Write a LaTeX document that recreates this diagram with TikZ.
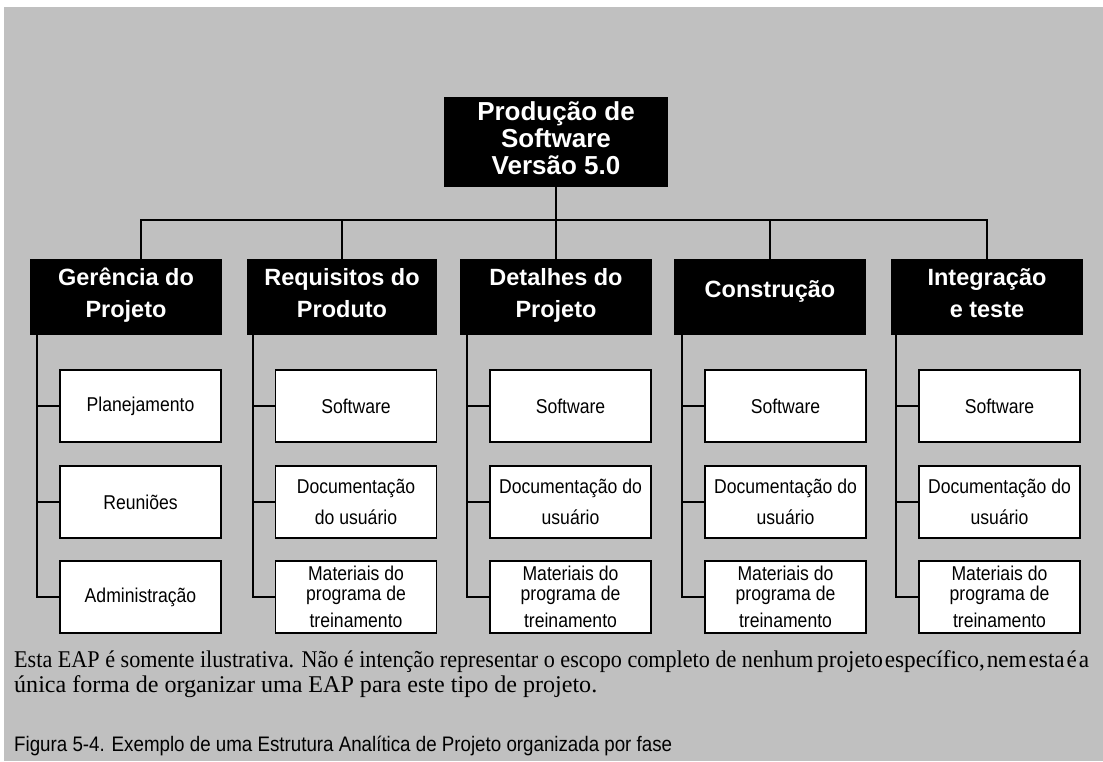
\documentclass[tikz,border=0pt]{standalone}
\usepackage{fontspec}
\usepackage{graphicx}
\setmainfont{Liberation Serif}
\newfontfamily\arialfont{Liberation Sans}
\newfontfamily\narrowfont[FakeStretch=0.88]{Liberation Sans}
\definecolor{panel}{HTML}{C0C0C0}
% line strut for the two-line phase titles
\newcommand{\ls}{\rule[-12pt]{0pt}{32pt}}

\begin{document}
\begin{tikzpicture}[x=1pt,y=-1pt,
  link/.style={line width=1.6pt,line cap=rect},
  rootbox/.style={fill=black,text=white,inner sep=0pt,align=center,
    minimum width=224pt,minimum height=90pt,text depth=7pt,
    font=\arialfont\bfseries\fontsize{26}{27}\selectfont},
  phasebox/.style={fill=black,text=white,inner sep=0pt,align=center,
    minimum width=192pt,minimum height=76pt,
    font=\arialfont\bfseries\fontsize{23.5}{32}\selectfont},
  itembox/.style={draw=black,line width=1.6pt,fill=white,inner sep=0pt,align=center,
    minimum width=161pt,minimum height=72pt,
    font=\narrowfont\fontsize{20}{20}\selectfont},
  note/.style={anchor=base west,inner sep=0pt}
]
% page and grey panel
\useasboundingbox (0,0) rectangle (1103,761);
\fill[white] (0,0) rectangle (1103,761);
\fill[panel] (4,7) rectangle (1103,761);

% top of the breakdown
\node[rootbox] (root) at (556,142) {Produção de\\Software\\Versão 5.0};

% phases
\node[phasebox] (gp) at (126,297) {\ls Gerência do\\\ls Projeto};
\node[phasebox,minimum width=190pt] (rp) at (342,297) {\ls Requisitos do\\\ls Produto};
\node[phasebox] (dp) at (556,297) {\ls Detalhes do\\\ls Projeto};
\node[phasebox,text height=18pt,text depth=18pt] (cp) at (770,297) {Construção};
\node[phasebox] (ip) at (987,297) {\ls Integração\\\ls e teste};

% bus between the root and the phases
\coordinate (bus) at (556,220);
\draw[link] (root.south) -- (root.south |- bus);
\draw[link] ([xshift=15pt]gp.north) |- (ip.north |- bus) -- (ip.north);
\foreach \p in {rp,dp,cp}
  \draw[link] (\p.north) -- (\p.north |- bus);

% work packages
\node[itembox] (g1) at (140.5,406) {Planejamento};
\node[itembox] (g2) at (140.5,502) {Reuniões};
\node[itembox] (g3) at (140.5,597) {Administração};

\node[itembox] (r1) at (356,406) {Software};
\node[itembox] (r2) at (356,502) {Documentação\\[11pt]do usuário};
\node[itembox] (r3) at (356,597) {Materiais do\\programa de\\[7pt]treinamento};

\foreach \c/\x in {d/570.5,c/785.5,i/999.5}{
  \node[itembox] (\c1) at (\x,406) {Software};
  \node[itembox] (\c2) at (\x,502) {Documentação do\\[11pt]usuário};
  \node[itembox] (\c3) at (\x,597) {Materiais do\\programa de\\[7pt]treinamento};
}

% spines from each phase to its packages
\foreach \c in {g,r,d,c,i}{
  \coordinate (\c s) at ([xshift=-22pt]\c3.west);
  \draw[link] (\c s |- \c p.south) -- (\c s) -- (\c3.west);
  \draw[link] (\c1.west) -- (\c1.west -| \c s);
  \draw[link] (\c2.west) -- (\c2.west -| \c s);
}

% notes under the chart (first line is justified, its tail set tight)
\node[note] (n1) at (14,667) {\resizebox{799pt}{\height}{\fontsize{24}{24}\selectfont Esta EAP é somente ilustrativa. Não é intenção representar o escopo completo de nenhum}};
\node[note] (n1b) at (817,667) {\resizebox{272pt}{\height}{\fontsize{24}{24}\selectfont\spaceskip=2pt projeto específico, nem esta é a}};
\node[note] (n2) at (14,692) {\resizebox{583pt}{\height}{\fontsize{24}{24}\selectfont única forma de organizar uma EAP para este tipo de projeto.}};
\node[note] (n3) at (14,751) {\resizebox{658pt}{\height}{\arialfont\fontsize{21}{24}\selectfont Figura 5-4. Exemplo de uma Estrutura Analítica de Projeto organizada por fase}};
\end{tikzpicture}
\end{document}
